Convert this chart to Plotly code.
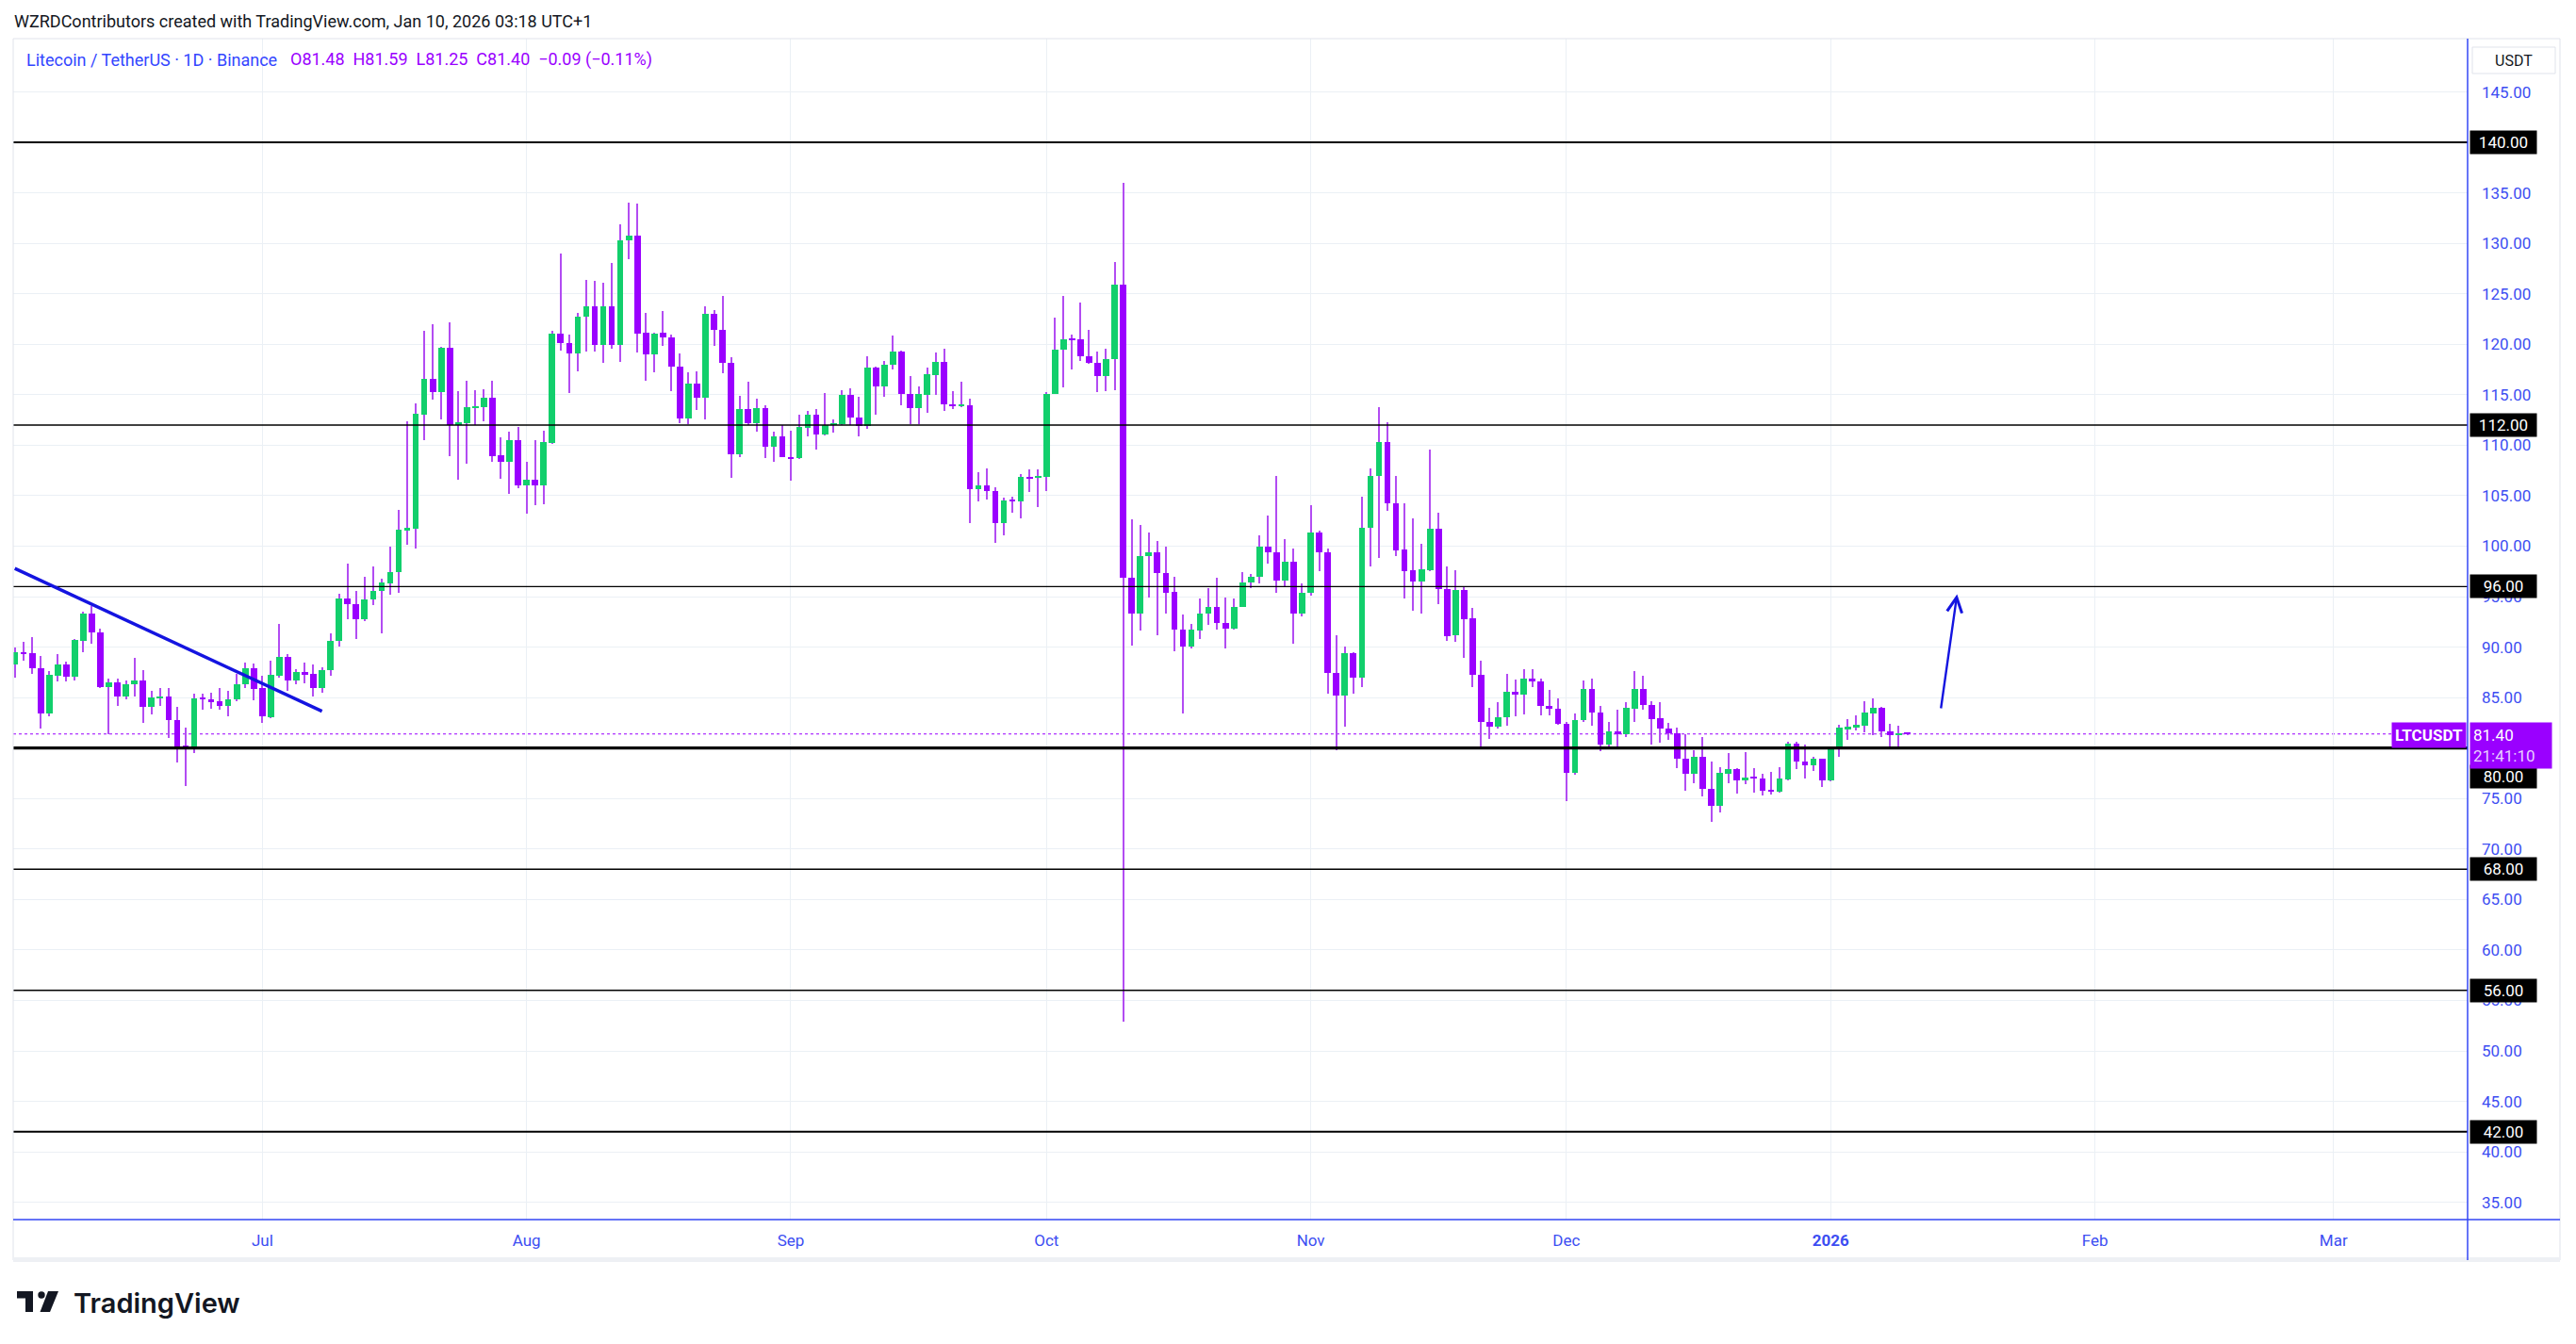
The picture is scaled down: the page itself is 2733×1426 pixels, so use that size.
import plotly.graph_objects as go
import pandas as pd

# ---------------- data ----------------
dates = pd.date_range("2025-06-02", periods=223, freq="D")

opens = [88.3, 89.5, 89.45, 87.94, 83.46, 87.2, 88.28, 87.1, 90.65, 93.32,
         91.5, 86.07, 86.51, 85.14, 86.3, 86.69, 84.08, 85.0, 85.1, 82.8,
         80.22, 80.12, 84.92, 84.86, 84.62, 84.2, 84.8, 86.3, 87.91, 85.92,
         83.1, 87.2, 89.03, 86.73, 87.5, 87.32, 85.95, 87.7, 90.6, 94.85,
         94.3, 92.77, 94.68, 95.57, 96.36, 97.46, 101.58, 101.7, 113.07, 116.56,
         115.27, 119.61, 112.0, 112.2, 113.72, 113.8, 114.75, 109.0, 108.4, 110.49,
         106.0, 106.6, 106.04, 110.24, 121.1, 120.15, 119.06, 122.74, 123.76, 119.98,
         123.76, 119.9, 130.27, 130.8, 121.15, 119.02, 121.11, 120.7, 117.8, 112.61,
         116.07, 114.7, 123.0, 121.45, 118.2, 109.1, 113.55, 112.15, 113.64, 109.84,
         110.84, 108.85, 108.72, 111.74, 112.99, 111.06, 111.96, 112.1, 114.95, 112.75,
         111.9, 117.66, 115.82, 117.97, 119.24, 115.1, 113.67, 115.0, 116.95, 118.22,
         114.05, 113.9, 114.0, 105.63, 106.04, 105.47, 102.26, 104.56, 104.42, 106.86,
         106.78, 106.88, 115.06, 119.44, 120.48, 120.45, 118.8, 118.2, 116.81, 118.51,
         125.89, 96.85, 93.35, 98.98, 99.42, 97.35, 95.45, 91.73, 90.06, 91.65,
         93.35, 94.0, 92.42, 91.81, 93.98, 96.41, 96.98, 99.96, 99.4, 96.57,
         98.49, 93.33, 95.38, 101.39, 99.43, 87.46, 85.19, 89.45, 86.96, 101.83,
         106.96, 110.35, 104.25, 99.66, 97.6, 96.48, 97.65, 101.77, 95.76, 91.2,
         95.7, 92.85, 87.24, 82.6, 82.11, 83.06, 85.53, 85.28, 86.88, 86.63,
         84.2, 83.9, 82.39, 77.54, 82.76, 85.9, 83.55, 80.33, 81.7, 81.4,
         83.93, 85.83, 84.3, 82.93, 81.97, 81.5, 78.97, 77.5, 79.1, 76.0,
         74.27, 77.48, 77.88, 76.77, 77.04, 77.02, 75.8, 75.7, 76.9, 80.4,
         78.7, 78.29, 78.91, 76.79, 79.88, 81.93, 82.02, 82.21, 83.43, 83.96,
         81.7, 81.28, 81.48]

highs = [90.0, 90.55, 91.0, 89.12, 87.63, 89.31, 88.56, 90.77, 93.48, 94.04,
         91.86, 86.88, 86.88, 86.7, 88.94, 87.75, 85.64, 85.95, 85.95, 84.08,
         82.03, 85.39, 85.39, 85.51, 85.95, 85.64, 87.38, 88.44, 88.37, 87.19,
         88.66, 92.3, 89.31, 87.82, 88.44, 88.28, 87.97, 91.36, 95.29, 98.32,
         95.53, 96.93, 98.03, 96.74, 99.98, 103.6, 112.37, 114.13, 121.38, 121.96,
         119.76, 122.22, 115.35, 116.38, 115.42, 115.53, 116.38, 110.82, 111.34, 111.82,
         108.36, 110.53, 111.45, 121.38, 129.0, 121.0, 123.1, 126.34, 126.26, 126.08,
         128.1, 131.9, 134.06, 133.9, 123.14, 121.11, 123.26, 120.92, 119.06, 117.19,
         117.28, 123.72, 123.35, 124.75, 118.68, 114.85, 116.25, 114.64, 113.92, 111.31,
         111.99, 111.4, 113.0, 113.39, 113.55, 115.16, 112.55, 115.41, 115.63, 114.76,
         118.78, 117.81, 118.31, 120.86, 119.37, 116.81, 115.79, 117.69, 119.15, 119.52,
         115.32, 116.25, 114.57, 107.3, 107.73, 105.87, 104.83, 104.94, 107.19, 107.62,
         107.62, 115.28, 122.6, 124.8, 120.97, 124.14, 121.41, 119.28, 119.55, 128.14,
         135.96, 102.7, 102.1, 101.39, 100.51, 99.96, 97.01, 93.24, 92.3, 94.82,
         95.81, 96.9, 94.93, 94.82, 97.45, 97.23, 101.06, 103.08, 106.97, 100.73,
         99.8, 96.35, 104.04, 101.55, 99.78, 91.22, 90.04, 89.5, 104.88, 107.68,
         113.74, 112.31, 106.99, 104.29, 102.79, 100.21, 109.6, 103.35, 97.97, 97.6,
         95.95, 93.84, 88.7, 83.97, 84.53, 87.33, 86.77, 87.8, 87.86, 86.84,
         85.72, 84.91, 82.58, 83.41, 86.74, 86.84, 84.13, 82.58, 83.76, 84.52,
         87.6, 87.13, 84.61, 84.52, 82.46, 81.99, 81.4, 79.78, 81.06, 78.63,
         78.07, 79.47, 78.04, 79.56, 77.98, 77.41, 77.6, 78.07, 80.59, 80.59,
         80.31, 79.13, 78.95, 80.0, 82.27, 82.83, 83.21, 84.61, 84.89, 84.05,
         82.37, 82.18, 81.59]

lows = [87.0, 88.7, 87.35, 81.96, 83.15, 86.63, 86.63, 86.73, 89.53, 90.37,
        85.95, 81.34, 84.21, 84.8, 85.14, 82.52, 83.37, 84.2, 80.97, 78.6,
        76.2, 79.47, 83.83, 83.89, 83.77, 83.15, 84.64, 85.95, 84.76, 82.46,
        82.96, 86.94, 85.7, 86.32, 86.41, 85.14, 85.48, 87.13, 90.06, 92.77,
        90.79, 92.59, 94.17, 91.34, 95.2, 95.4, 100.13, 99.76, 110.53, 114.5,
        112.55, 108.88, 106.63, 108.21, 112.0, 112.37, 108.32, 106.71, 105.2, 105.79,
        103.18, 104.1, 104.17, 110.1, 119.4, 115.2, 117.3, 119.24, 119.24, 118.2,
        119.54, 118.3, 128.47, 119.2, 116.4, 117.19, 119.83, 115.32, 112.15, 112.05,
        113.45, 112.55, 119.83, 117.13, 106.76, 108.82, 111.99, 111.31, 108.72, 108.35,
        108.8, 106.48, 108.63, 110.9, 109.56, 111.0, 111.21, 111.99, 111.99, 110.84,
        111.59, 113.02, 114.79, 117.5, 113.95, 112.08, 112.08, 113.2, 115.0, 113.42,
        113.55, 113.76, 102.25, 104.4, 104.6, 100.29, 101.06, 103.3, 102.75, 105.33,
        103.85, 105.44, 115.06, 115.77, 117.47, 118.35, 118.07, 115.23, 115.34, 115.5,
        52.87, 90.17, 91.6, 94.88, 91.16, 93.35, 89.63, 83.39, 89.9, 90.77,
        92.25, 91.76, 89.9, 91.7, 93.95, 95.81, 96.35, 98.27, 95.37, 95.92,
        90.38, 93.0, 95.08, 97.5, 85.37, 79.78, 82.11, 85.37, 86.0, 98.03,
        98.81, 103.48, 99.06, 94.86, 93.59, 93.31, 97.5, 94.24, 90.6, 90.51,
        88.92, 86.0, 80.09, 80.87, 81.95, 82.26, 83.13, 83.29, 86.06, 83.2,
        83.2, 82.33, 74.74, 77.35, 82.58, 82.2, 79.68, 80.15, 80.15, 81.09,
        82.59, 83.83, 80.34, 80.53, 80.81, 78.0, 75.76, 76.48, 75.2, 72.68,
        73.61, 76.51, 75.48, 76.42, 75.58, 75.3, 75.39, 75.58, 76.79, 77.91,
        76.98, 77.73, 76.14, 76.7, 79.13, 80.81, 81.74, 81.53, 81.25, 81.09,
        80.09, 80.09, 81.25]

closes = [89.5, 89.4, 87.94, 83.46, 87.26, 88.28, 87.1, 90.71, 93.32, 91.49,
          86.07, 86.51, 85.14, 86.32, 86.69, 84.08, 85.01, 85.08, 82.8, 80.19,
          80.16, 84.92, 84.86, 84.58, 84.2, 84.83, 86.32, 87.91, 85.89, 83.15,
          87.26, 89.03, 86.73, 87.5, 87.29, 85.95, 87.72, 90.62, 94.85, 94.28,
          92.77, 94.72, 95.6, 96.38, 97.48, 101.6, 101.8, 113.1, 116.56, 115.27,
          119.61, 112.0, 112.29, 113.76, 113.91, 114.68, 108.95, 108.4, 110.49, 106.0,
          106.6, 106.0, 110.31, 121.1, 120.1, 119.06, 122.77, 123.76, 119.98, 123.76,
          119.9, 130.3, 130.8, 121.1, 119.02, 121.1, 120.67, 117.75, 112.61, 116.07,
          114.7, 123.0, 121.42, 118.15, 109.1, 113.55, 112.15, 113.64, 109.84, 110.84,
          108.85, 108.72, 111.77, 112.99, 111.06, 111.96, 112.15, 114.95, 112.71, 111.9,
          117.66, 115.82, 118.0, 119.24, 115.07, 113.67, 115.04, 117.0, 118.22, 114.08,
          113.83, 114.0, 105.63, 106.04, 105.44, 102.26, 104.56, 104.45, 106.86, 106.75,
          106.91, 115.06, 119.44, 120.48, 120.42, 118.78, 118.18, 116.81, 118.51, 125.89,
          96.85, 93.35, 98.98, 99.42, 97.3, 95.42, 91.7, 90.06, 91.7, 93.35,
          94.0, 92.42, 91.81, 94.0, 96.41, 97.01, 99.96, 99.36, 96.57, 98.49,
          93.33, 95.42, 101.39, 99.4, 87.43, 85.19, 89.45, 86.96, 101.86, 106.99,
          110.35, 104.22, 99.62, 97.5, 96.48, 97.75, 101.77, 95.73, 91.13, 95.7,
          92.81, 87.24, 82.58, 82.11, 83.1, 85.53, 85.28, 86.93, 86.6, 84.16,
          83.88, 82.39, 77.54, 82.8, 85.9, 83.53, 80.33, 81.7, 81.4, 83.96,
          85.83, 84.3, 82.9, 81.95, 81.45, 78.94, 77.45, 79.1, 75.95, 74.27,
          77.51, 77.88, 76.79, 77.04, 77.0, 75.76, 75.74, 76.95, 80.4, 78.66,
          78.29, 78.91, 76.79, 79.9, 81.99, 82.09, 82.27, 83.49, 83.96, 81.65,
          81.28, 81.49, 81.40]

levels = [140, 112, 96, 80, 68, 56, 42]
last_price = 81.40

trend_dates = ["2025-06-01 23:00", "2025-07-08 00:00"]
trend_prices = [97.8, 83.65]

arrow_dates = ["2026-01-13 22:00", "2026-01-15 20:00"]
arrow_prices = [83.8, 95.25]

y_ticks = [35, 40, 45, 50, 55, 60, 65, 70, 75, 80, 85, 90, 95, 100,
           105, 110, 115, 120, 125, 130, 135, 140, 145]
x_tick_dates = ["2025-07-01", "2025-08-01", "2025-09-01", "2025-10-01",
                "2025-11-01", "2025-12-01", "2026-01-01", "2026-02-01", "2026-03-01"]
x_tick_labels = ["Jul", "Aug", "Sep", "Oct", "Nov", "Dec", "<b>2026</b>", "Feb", "Mar"]

# ---------------- styles ----------------
GREEN = "#12CF6C"
PURPLE = "#9A00FF"
WICK = "#B24CF2"
AXIS_BLUE = "#3346F5"
TICK_BLUE = "#3D4EF2"
GRID = "#EBF0F5"
FONT = "Roboto, Arial, sans-serif"

DAY_MS = 86400000
OFF = 8                      # default page body margin in the written html
FIG_W, FIG_H = 2733 - 2 * OFF, 1426 - 2 * OFF
L, R_PX, T, B = 14, 2618, 41, 1294   # plot area in page pixels
W, H = R_PX - L, B - T


def px(x):
    return (x - L) / W


def py(y):
    return (B - y) / H


body_base = [min(o, c) for o, c in zip(opens, closes)]
body_len = [max(abs(c - o), 0.12) for o, c in zip(opens, closes)]
body_col = [GREEN if c >= o else PURPLE for o, c in zip(opens, closes)]
wick_len = [h - l for h, l in zip(highs, lows)]

fig = go.Figure()
fig.add_trace(go.Bar(x=dates, y=wick_len, base=lows, width=0.13 * DAY_MS,
                     marker=dict(color=WICK, line=dict(width=0)),
                     hoverinfo="skip", showlegend=False))
fig.add_trace(go.Bar(x=dates, y=body_len, base=body_base, width=0.74 * DAY_MS,
                     marker=dict(color=body_col, line=dict(width=0)),
                     hoverinfo="skip", showlegend=False))

shapes = []
level_width = {140: 2, 112: 1.4, 96: 1.4, 80: 3.2, 68: 1.4, 56: 1.4, 42: 2}
for lv in levels:
    shapes.append(dict(type="line", xref="paper", yref="y", x0=0, x1=1, y0=lv, y1=lv,
                       line=dict(color="#000000", width=level_width[lv]), layer="above"))
shapes.append(dict(type="line", xref="paper", yref="y", x0=0, x1=1,
                   y0=last_price, y1=last_price,
                   line=dict(color=PURPLE, width=1.2, dash="dot"), layer="below"))
shapes.append(dict(type="line", xref="x", yref="y",
                   x0=trend_dates[0], x1=trend_dates[1],
                   y0=trend_prices[0], y1=trend_prices[1],
                   line=dict(color="#1414E0", width=3.5)))
shapes.append(dict(type="rect", xref="paper", yref="paper", x0=0, x1=px(2716),
                   y0=py(1337), y1=1, line=dict(color="#E0E3EB", width=1)))
shapes.append(dict(type="rect", xref="paper", yref="paper", x0=0, x1=px(2716),
                   y0=py(1339), y1=py(1334), fillcolor="#EEF0F4", line=dict(width=0)))
shapes.append(dict(type="line", xref="paper", yref="paper", x0=0, x1=px(2716),
                   y0=0, y1=0, line=dict(color=AXIS_BLUE, width=1.5)))
shapes.append(dict(type="line", xref="paper", yref="paper", x0=1, x1=1,
                   y0=py(1337), y1=1, line=dict(color=AXIS_BLUE, width=1.5)))
shapes.append(dict(type="rect", xref="paper", yref="paper", x0=px(2623), x1=px(2711),
                   y0=py(78), y1=py(50), fillcolor="#FFFFFF",
                   line=dict(color="#E0E3EB", width=1)))
# TradingView logo
shapes.append(dict(type="path", xref="paper", yref="paper",
                   path=(f"M{px(18)},{py(1370)} L{px(35)},{py(1370)} L{px(35)},{py(1392)} "
                         f"L{px(27)},{py(1392)} L{px(27)},{py(1377.5)} L{px(18)},{py(1377.5)} Z"),
                   fillcolor="#131722", line=dict(width=0)))
shapes.append(dict(type="circle", xref="paper", yref="paper",
                   x0=px(40.3), x1=px(47.7), y0=py(1377.7), y1=py(1370.3),
                   fillcolor="#131722", line=dict(width=0)))
shapes.append(dict(type="path", xref="paper", yref="paper",
                   path=(f"M{px(51)},{py(1370)} L{px(62)},{py(1370)} L{px(53)},{py(1392)} "
                         f"L{px(42.5)},{py(1392)} Z"),
                   fillcolor="#131722", line=dict(width=0)))

annotations = []
for lv in levels:
    annotations.append(dict(xref="paper", yref="y", x=1, y=lv, xanchor="left",
                            yanchor="middle", xshift=2, yshift=(-30 if lv == 80 else 0),
                            text=f"{lv:.2f}", showarrow=False, width=66, align="center",
                            bgcolor="#000000", borderpad=2,
                            font=dict(family=FONT, size=17, color="#FFFFFF")))
annotations.append(dict(xref="paper", yref="y", x=1, y=last_price, xanchor="left",
                        yanchor="top", xshift=2, yshift=13,
                        text=f"{last_price:.2f}<br><span style='color:#E8D0FF'>21:41:10</span>",
                        showarrow=False, width=80, align="left", bgcolor=PURPLE, borderpad=3,
                        font=dict(family=FONT, size=17, color="#FFFFFF")))
annotations.append(dict(xref="paper", yref="y", x=1, y=last_price, xanchor="right",
                        yanchor="top", xshift=-1, yshift=13, text="<b>LTCUSDT</b>",
                        showarrow=False, bgcolor=PURPLE, borderpad=3,
                        font=dict(family=FONT, size=17, color="#FFFFFF")))
annotations.append(dict(xref="x", yref="y", axref="x", ayref="y",
                        x=arrow_dates[1], y=arrow_prices[1],
                        ax=arrow_dates[0], ay=arrow_prices[0],
                        text="", showarrow=True, arrowhead=5, arrowsize=1.3,
                        arrowwidth=2.4, arrowcolor="#1414E0"))
annotations.append(dict(xref="paper", yref="paper", x=px(13), y=py(22), xanchor="left",
                        yanchor="middle", showarrow=False,
                        text="WZRDContributors created with TradingView.com, Jan 10, 2026 03:18 UTC+1",
                        font=dict(family=FONT, size=18, color="#131722")))
annotations.append(dict(xref="paper", yref="paper", x=px(26), y=py(63), xanchor="left",
                        yanchor="middle", showarrow=False,
                        text="Litecoin / TetherUS · 1D · Binance",
                        font=dict(family=FONT, size=18, color="#3346FF")))
annotations.append(dict(xref="paper", yref="paper", x=px(306), y=py(63), xanchor="left",
                        yanchor="middle", showarrow=False,
                        text=("O81.48&nbsp;&nbsp;H81.59&nbsp;&nbsp;L81.25&nbsp;&nbsp;C81.40"
                              "&nbsp;&nbsp;−0.09 (−0.11%)"),
                        font=dict(family=FONT, size=18, color="#9A00FF")))
annotations.append(dict(xref="paper", yref="paper", x=px(2667), y=py(64), xanchor="center",
                        yanchor="middle", showarrow=False, text="USDT",
                        font=dict(family=FONT, size=16, color="#131722")))
annotations.append(dict(xref="paper", yref="paper", x=px(76), y=py(1382), xanchor="left",
                        yanchor="middle", showarrow=False, text="TradingView",
                        font=dict(family="Inter, Roboto, sans-serif", size=29,
                                  color="#131722", weight=600)))

fig.update_layout(
    width=FIG_W, height=FIG_H,
    margin=dict(l=L - OFF, r=FIG_W - (R_PX - OFF), t=T - OFF, b=FIG_H - (B - OFF)),
    paper_bgcolor="#FFFFFF", plot_bgcolor="#FFFFFF",
    barmode="overlay", bargap=0, hovermode=False, showlegend=False,
    shapes=shapes, annotations=annotations,
    xaxis=dict(type="date", range=["2025-06-01 18:30", "2026-03-16 17:30"],
               tickvals=x_tick_dates, ticktext=x_tick_labels,
               tickfont=dict(family=FONT, size=17, color=TICK_BLUE),
               showgrid=True, gridcolor=GRID, gridwidth=1,
               showline=False, zeroline=False, ticks="", ticklabelstandoff=10,
               fixedrange=True, rangeslider=dict(visible=False)),
    yaxis=dict(side="right", range=[33.29, 150.28], tickvals=y_ticks,
               ticktext=[f"{v:.2f}" for v in y_ticks],
               tickfont=dict(family=FONT, size=17, color=TICK_BLUE),
               showgrid=True, gridcolor=GRID, gridwidth=1,
               showline=False, zeroline=False, ticks="", ticklabelstandoff=14,
               fixedrange=True),
)

fig.write_html("out.html")
